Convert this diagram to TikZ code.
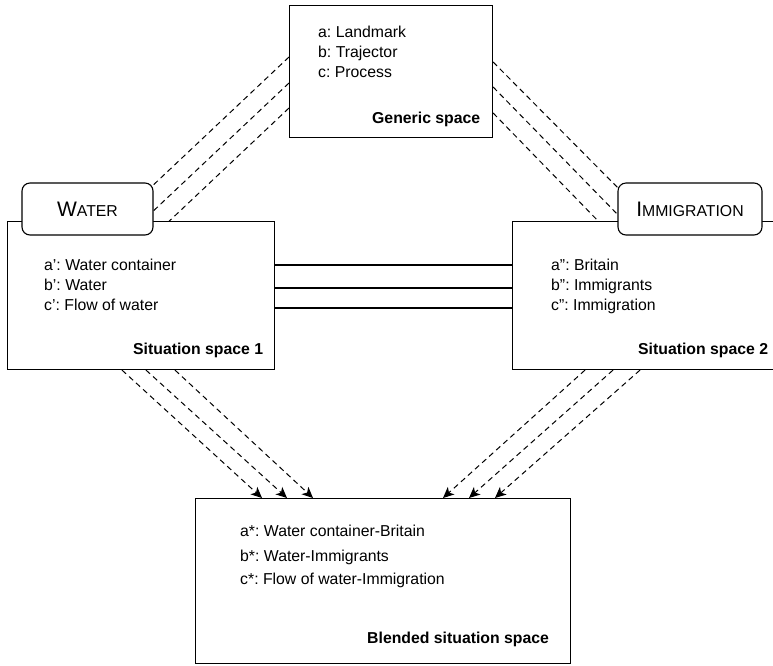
\documentclass[tikz,border=0pt]{standalone}
\usepackage{fontspec}
\setmainfont{Liberation Sans}
\usetikzlibrary{arrows.meta,backgrounds}
% fake small capitals: large initial, smaller capitals after it
\newcommand\capsc[2]{{\fontsize{21}{21}\selectfont #1}#2}
\frenchspacing
\begin{document}
\begin{tikzpicture}[x=1pt,y=-1pt,
  every node/.style={font=\fontsize{15.8}{19}\selectfont},
  space/.style={draw, fill=white, line width=1.1pt, anchor=north west, inner sep=0pt},
  tab/.style={draw, fill=white, rounded corners=8pt, line width=1.1pt,
              minimum height=52pt, inner sep=0pt},
  item/.style={anchor=base west, inner sep=0pt},
  title/.style={anchor=base west, inner sep=0pt,
                font=\fontsize{15.8}{19}\selectfont\bfseries},
  map/.style={dash pattern=on 5.5pt off 4pt, line width=1pt},
  proj/.style={map, -{Stealth[length=11pt,width=10pt,inset=3pt]}},
  link/.style={line width=1.1pt}]

\useasboundingbox (0,0) rectangle (773,665);
\clip (0,0) rectangle (773,665);

% the four spaces
\node[space, minimum width=203pt, minimum height=132pt] (gen)   at (289,5)   {};
\node[space, minimum width=267pt, minimum height=148pt] (sit1)  at (7,221)   {};
\node[space, minimum width=268pt, minimum height=148pt] (sit2)  at (512,221) {};
\node[space, minimum width=375pt, minimum height=165pt] (blend) at (195,498)  {};

% domain tabs
\node[tab, minimum width=131pt] (water) at (87.5,209) {\capsc{W}{ATER}};
\node[tab, minimum width=144pt] (immig) at (690,209)  {\capsc{I}{MMIGRATION}};

% generic space
\node[item] (g1) at (318,37) {a: Landmark};
\node[item] (g2) at (318,57) {b: Trajector};
\node[item] (g3) at (318,77) {c: Process};
\node[title] (gt) at (372,123) {Generic space};

% situation space 1
\node[item] (s11) at (44,270) {a’: Water container};
\node[item] (s12) at (44,290) {b’: Water};
\node[item] (s13) at (44,310) {c’: Flow of water};
\node[title] (s1t) at (133,354) {Situation space 1};

% situation space 2
\node[item] (s21) at (551,270) {a”: Britain};
\node[item] (s22) at (551,290) {b”: Immigrants};
\node[item] (s23) at (551,310) {c”: Immigration};
\node[title] (s2t) at (638,354) {Situation space 2};

% blended space
\node[item] (b1) at (240,536) {a*: Water container-Britain};
\node[item] (b2) at (240,561) {b*: Water-Immigrants};
\node[item] (b3) at (240,584) {c*: Flow of water-Immigration};
\node[title] (bt) at (367,643) {Blended situation space};

% inner ends of the generic-space mappings (hidden under the tabs and boxes)
\coordinate (wl1) at (148,190);
\coordinate (wl2) at (148,216);
\coordinate (wl3) at (163,227);
\coordinate (il1) at (622,192);
\coordinate (il2) at (622,219);
\coordinate (il3) at (603,226);

\begin{pgfonlayer}{background}
  % generic space to the input spaces
  \draw[map] (gen.west |- 0,57)  -- (wl1);
  \draw[map] (gen.west |- 0,83)  -- (wl2);
  \draw[map] (gen.west |- 0,108) -- (wl3);
  \draw[map] (gen.east |- 0,62)  -- (il1);
  \draw[map] (gen.east |- 0,87)  -- (il2);
  \draw[map] (gen.east |- 0,113) -- (il3);
\end{pgfonlayer}

% cross-space counterpart links
\draw[link] (sit1.east |- 0,265) -- (sit2.west |- 0,265);
\draw[link] (sit1.east |- 0,288) -- (sit2.west |- 0,288);
\draw[link] (sit1.east |- 0,308) -- (sit2.west |- 0,308);

% projections into the blend
\draw[proj] (sit1.south -| 122,0) -- (blend.north -| 262,0);
\draw[proj] (sit1.south -| 146,0) -- (blend.north -| 287,0);
\draw[proj] (sit1.south -| 175,0) -- (blend.north -| 313,0);
\draw[proj] (sit2.south -| 585,0) -- (blend.north -| 443,0);
\draw[proj] (sit2.south -| 613,0) -- (blend.north -| 469,0);
\draw[proj] (sit2.south -| 640,0) -- (blend.north -| 495,0);
\end{tikzpicture}
\end{document}
